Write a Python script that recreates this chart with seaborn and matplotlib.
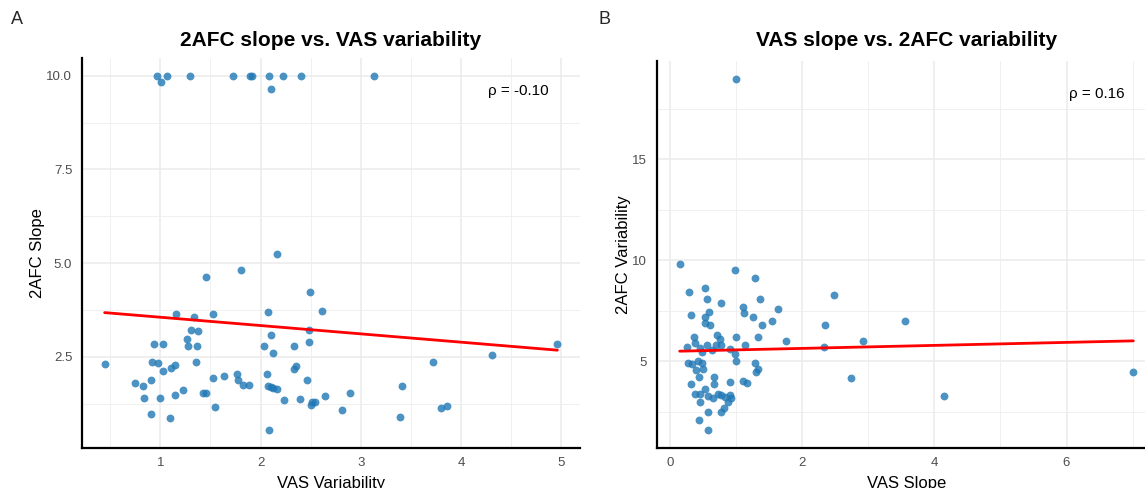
import numpy as np
import pandas as pd
import seaborn as sns
import matplotlib.pyplot as plt
from matplotlib.ticker import MultipleLocator, FormatStrFormatter

# Panel A: 2AFC slope against VAS variability
vas_var = [2.166, 1.453, 1.80, 2.495, 2.608, 1.157, 1.336, 1.526, 2.077, 1.306,
           1.376, 2.481, 1.267, 0.941, 1.024, 1.277, 1.366, 2.103, 2.03, 2.123,
           2.332, 2.478, 0.444, 0.915, 0.981, 1.031, 1.107, 1.150, 1.353, 0.749,
           0.829, 0.908, 0.835, 1.001, 0.908, 1.097, 1.147, 1.224, 1.429, 1.456,
           1.522, 1.545, 1.635, 1.765, 1.775, 1.824, 1.884, 2.067, 2.077, 2.10,
           2.126, 2.163, 2.087, 2.236, 2.332, 2.349, 2.458, 2.392, 2.498, 2.508,
           2.541, 2.641, 2.894, 2.811, 3.407, 3.39, 3.715, 3.795, 3.858, 4.305,
           4.96, 0.965, 1.004, 1.071, 1.293, 1.725, 1.894, 1.914, 2.086, 2.10,
           2.219, 2.402, 3.129]
afc_slope = [5.25, 4.64, 4.82, 4.24, 3.73, 3.64, 3.57, 3.64, 3.70, 3.21,
             3.18, 3.22, 2.96, 2.85, 2.85, 2.78, 2.79, 3.07, 2.79, 2.60,
             2.79, 2.90, 2.31, 2.36, 2.34, 2.12, 2.21, 2.28, 2.36, 1.79,
             1.71, 1.875, 1.40, 1.40, 0.98, 0.857, 1.49, 1.62, 1.54, 1.54,
             1.92, 1.17, 1.98, 2.04, 1.89, 1.74, 1.74, 2.04, 1.71, 1.69,
             1.66, 1.64, 0.55, 1.34, 2.18, 2.24, 1.87, 1.38, 1.22, 1.29,
             1.30, 1.45, 1.545, 1.07, 1.73, 0.88, 2.35, 1.12, 1.19, 2.54,
             2.83, 10.0, 9.84, 10.0, 10.0, 9.99, 10.0, 10.0, 10.0, 9.65,
             10.0, 9.99, 10.0]

# Panel B: 2AFC variability against VAS slope
vas_slope = [0.151, 0.99, 1.286, 0.291, 0.528, 0.563, 0.779, 1.362, 1.106, 1.126,
             0.588, 0.327, 0.538, 1.638, 1.256, 1.548, 1.397, 0.538, 0.608, 0.367,
             0.709, 0.764, 1.0, 1.332, 0.382, 0.261, 0.457, 0.568, 0.693, 0.779,
             0.492, 0.643, 0.915, 1.141, 0.99, 1.764, 0.995, 0.276, 0.342, 0.432,
             0.492, 0.402, 0.503, 1.296, 1.332, 1.302, 0.437, 0.668, 0.668, 0.905,
             1.101, 1.166, 0.327, 0.528, 0.382, 0.457, 0.573, 0.658, 0.724, 0.779,
             0.829, 0.915, 0.920, 0.889, 0.462, 0.819, 0.774, 0.583, 0.442, 0.573,
             2.352, 2.487, 2.337, 3.564, 2.93, 2.734, 4.148, 7.01, 1.0]
afc_var = [9.82, 9.51, 9.12, 8.41, 8.61, 8.10, 7.90, 8.10, 7.71, 7.41,
           7.43, 7.30, 7.18, 7.61, 7.20, 7.0, 6.79, 6.92, 6.79, 6.20,
           6.31, 6.08, 6.20, 6.20, 5.90, 5.70, 5.64, 5.79, 5.79, 5.80,
           5.48, 5.54, 5.62, 5.80, 5.38, 6.02, 5.0, 4.92, 4.85, 5.0,
           4.90, 4.59, 4.61, 4.90, 4.62, 4.49, 4.21, 4.21, 3.87, 3.99,
           4.0, 3.91, 3.89, 3.61, 3.40, 3.40, 3.30, 3.20, 3.40, 3.31,
           3.21, 3.31, 3.20, 2.97, 2.99, 2.69, 2.48, 2.51, 2.10, 1.60,
           6.80, 8.30, 5.72, 6.98, 6.0, 4.18, 3.28, 4.48, 19.0]

rho_a = -0.10
rho_b = 0.16

df_a = pd.DataFrame({'VAS Variability': vas_var, '2AFC Slope': afc_slope})
df_b = pd.DataFrame({'VAS Slope': vas_slope, '2AFC Variability': afc_var})

sns.set_theme(style='white')
plt.rcParams['font.family'] = ['Liberation Sans', 'DejaVu Sans']

W, H = 1145, 488
fig = plt.figure(figsize=(W / 100, H / 100), dpi=100)
ax_a = fig.add_axes([82 / W, 1 - 447.5 / H, 498 / W, 389.5 / H])
ax_b = fig.add_axes([657 / W, 1 - 447.5 / H, 499 / W, 386.5 / H])

point_col = '#1f77b4'


def expand(vals, f=0.05):
    lo, hi = min(vals), max(vals)
    pad = (hi - lo) * f
    return lo - pad, hi + pad


def panel(ax, df, xcol, ycol, title, rho, xmaj, ymaj, yfmt):
    sns.regplot(data=df, x=xcol, y=ycol, ax=ax, ci=None,
                scatter_kws=dict(s=32, color=point_col, alpha=0.8, linewidths=0, zorder=3),
                line_kws=dict(color='red', lw=2, zorder=4))
    ax.set_xlim(expand(df[xcol]))
    ax.set_ylim(expand(df[ycol]))
    ax.xaxis.set_major_locator(MultipleLocator(xmaj))
    ax.xaxis.set_minor_locator(MultipleLocator(xmaj / 2))
    ax.yaxis.set_major_locator(MultipleLocator(ymaj))
    ax.yaxis.set_minor_locator(MultipleLocator(ymaj / 2))
    ax.yaxis.set_major_formatter(FormatStrFormatter(yfmt))
    ax.set_axisbelow(True)
    ax.grid(which='major', color='#EBEBEB', lw=1.1)
    ax.grid(which='minor', color='#EEEEEE', lw=0.6)
    for s in ['top', 'right']:
        ax.spines[s].set_visible(False)
    for s in ['left', 'bottom']:
        ax.spines[s].set_color('black')
        ax.spines[s].set_linewidth(1.6)
    ax.tick_params(which='both', length=0, labelsize=9.5, labelcolor='#4D4D4D', pad=7)
    ax.set_xlabel(xcol, fontsize=12, color='black', labelpad=5)
    ax.set_ylabel(ycol, fontsize=12, color='black', labelpad=1)
    ax.text(0.937, 0.915, f'ρ = {rho:.2f}', transform=ax.transAxes,
            ha='right', va='center', fontsize=11, color='black')
    pos = ax.get_position()
    fig.text(pos.x0 + pos.width / 2, 1 - 40 / H, title, ha='center', va='center',
             fontsize=15, fontweight='bold', color='black')


panel(ax_a, df_a, 'VAS Variability', '2AFC Slope', '2AFC slope vs. VAS variability',
      rho_a, 1, 2.5, '%.1f')
panel(ax_b, df_b, 'VAS Slope', '2AFC Variability', 'VAS slope vs. 2AFC variability',
      rho_b, 2, 5, '%.0f')

fig.text(17 / W, 1 - 20 / H, 'A', ha='center', va='center', fontsize=13)
fig.text(605 / W, 1 - 20 / H, 'B', ha='center', va='center', fontsize=13)

fig.savefig('out.png', dpi=100)
